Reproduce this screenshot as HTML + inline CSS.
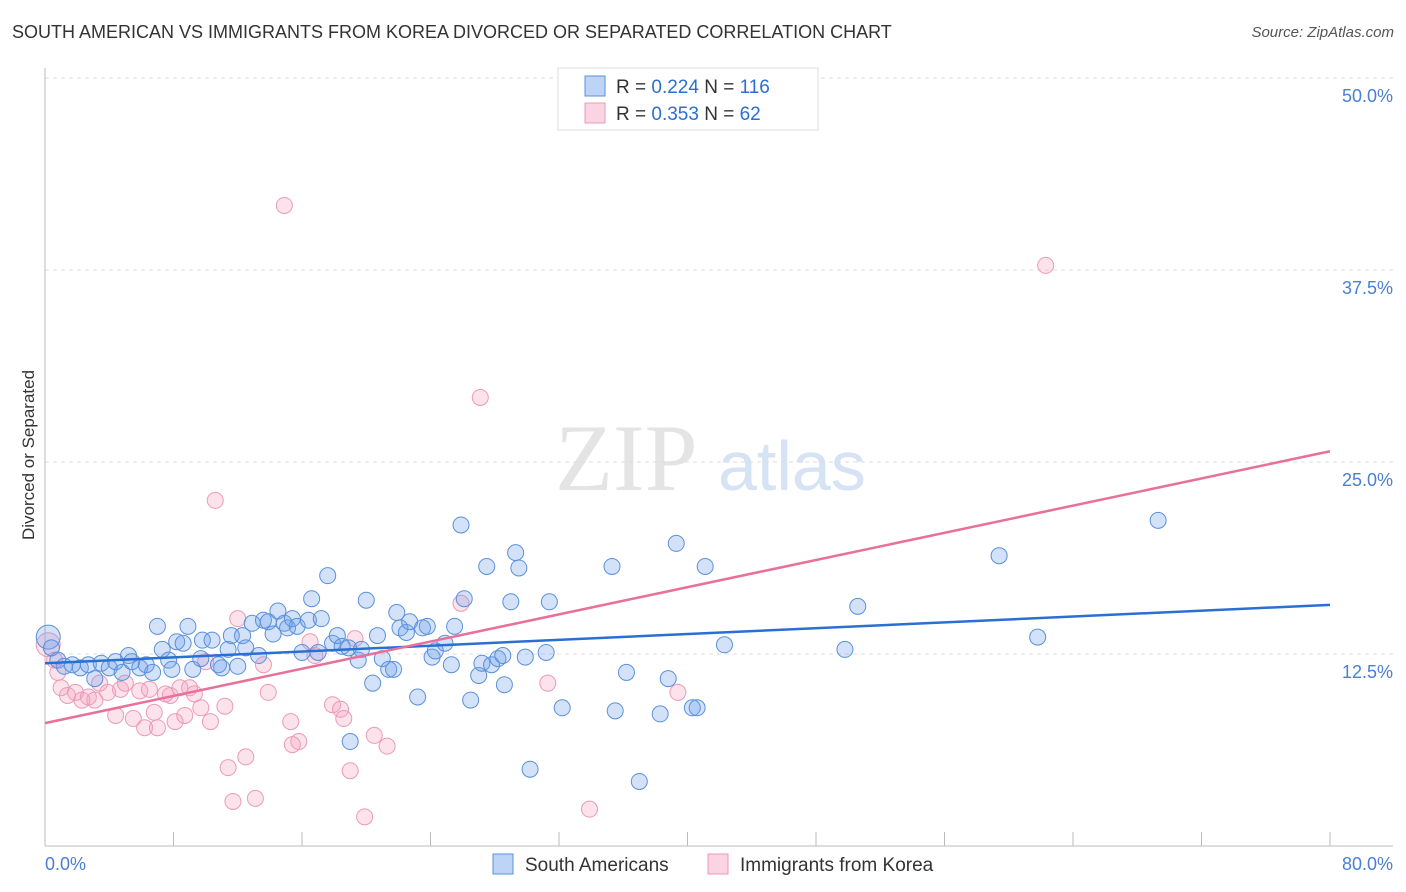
<!DOCTYPE html>
<html><head><meta charset="utf-8"><style>
body{margin:0;background:#fff;font-family:"Liberation Sans",sans-serif;}
#wrap{position:relative;width:1406px;height:892px;overflow:hidden;}
.t{position:absolute;white-space:nowrap;}
</style></head><body>
<div id="wrap">
<div class="t" style="left:12px;top:22px;font-size:18px;color:#333;">SOUTH AMERICAN VS IMMIGRANTS FROM KOREA DIVORCED OR SEPARATED CORRELATION CHART</div>
<div class="t" style="right:12px;top:24px;font-size:15px;color:#555;font-style:italic;">Source: ZipAtlas.com</div>
<svg id="chart" width="1406" height="892" style="position:absolute;left:0;top:0"></svg>
</div>
<script>
const blueX=[0.2,0.4,0.8,1.2,1.7,2.2,2.7,3.1,3.5,4.0,4.4,4.8,5.2,5.4,5.9,6.3,6.7,7.0,7.3,7.7,7.9,8.2,8.6,8.9,9.2,9.7,9.8,10.4,10.8,11.0,11.4,11.6,12.0,12.3,12.5,12.9,13.3,13.6,13.9,14.2,14.5,14.9,15.1,15.4,15.7,16.0,16.4,16.6,17.0,17.2,17.6,17.9,18.2,18.5,18.9,19.5,19.7,20.0,20.4,20.7,21.0,21.4,21.7,21.9,22.1,22.5,22.7,23.2,23.5,23.8,24.1,24.3,24.9,25.3,25.5,25.9,26.1,26.5,27.0,27.2,27.5,27.8,28.2,28.5,28.6,29.0,29.3,29.5,29.9,30.2,31.2,31.4,32.2,35.3,35.5,36.2,37.0,38.3,38.8,39.3,40.3,40.6,41.1,42.3,49.8,50.6,59.4,61.8,69.3,19.0];
const blueY=[13.6,12.9,12.1,11.7,11.8,11.6,11.8,10.9,11.9,11.6,12.0,11.3,12.4,12.0,11.6,11.8,11.3,14.3,12.8,12.1,11.5,13.3,13.2,14.3,11.5,12.2,13.4,13.4,11.8,11.6,12.8,13.7,11.7,13.7,12.9,14.5,12.4,14.7,14.6,13.8,15.3,14.5,14.2,14.8,14.3,12.6,14.7,16.1,12.6,14.8,17.6,13.2,13.7,13.0,12.9,12.1,12.8,16.0,10.6,13.7,12.2,11.5,11.5,15.2,14.2,13.9,14.6,9.7,14.2,14.3,12.3,12.7,13.2,11.8,14.3,20.9,16.1,9.5,11.1,11.9,18.2,11.8,12.2,12.4,10.5,15.9,19.1,18.1,12.3,5.0,12.6,15.9,9.0,18.2,8.8,11.3,4.2,8.6,10.9,19.7,9.0,9.0,18.2,13.1,12.8,15.6,18.9,13.6,21.2,6.8];
const pinkX=[0.2,0.6,0.8,1.0,1.4,1.9,2.3,2.7,3.1,3.4,3.9,4.4,4.7,5.0,5.5,5.9,6.2,6.5,6.8,7.0,7.5,7.8,8.1,8.4,8.7,9.0,9.3,9.7,10.0,10.3,10.6,11.2,11.4,11.7,12.0,12.5,13.1,13.6,13.9,14.9,15.3,15.4,15.8,16.5,16.8,17.9,18.4,18.6,19.0,19.3,19.9,20.5,21.3,25.9,27.1,31.3,33.9,39.4,62.3];
const pinkY=[13.1,12.1,11.3,10.3,9.8,10.0,9.5,9.7,9.5,10.6,10.0,8.5,10.2,10.6,8.3,10.1,7.7,10.2,8.7,7.7,9.9,9.8,8.1,10.3,8.5,10.3,9.9,9.0,12.0,8.1,22.5,9.1,5.1,2.9,14.8,5.8,3.1,11.8,10.0,41.7,8.1,6.6,6.8,13.3,12.4,9.2,8.9,8.3,4.9,13.5,1.9,7.2,6.5,15.8,29.2,10.6,2.4,10.0,37.8];
const blueTrend=[11.9,15.7];
const pinkTrend=[8.0,25.7];
const yTicks=[12.5,25.0,37.5,50.0];
const yTickLabels=["12.5%","25.0%","37.5%","50.0%"];
const xEnds=[0,80];
const xEndLabels=["0.0%","80.0%"];

const X0=45,X1=1330,Y0=846,Y1=78;
const sx=v=>X0+(v-0)/(80-0)*(X1-X0);
const sy=v=>Y0-(v/50)*(Y0-Y1);
const svg=document.getElementById('chart');
const NS='http://www.w3.org/2000/svg';
function mk(tag,attrs,parent){const e=document.createElementNS(NS,tag);for(const k in attrs)e.setAttribute(k,attrs[k]);(parent||svg).appendChild(e);return e;}

// watermark
let wm=mk('text',{x:555,y:490,'font-size':95,'font-family':'Liberation Serif,serif',fill:'#e4e4e4'});wm.textContent='ZIP';


let wm2=mk('text',{x:718,y:490,'font-size':70,'font-family':'Liberation Sans,sans-serif',fill:'#d5e3f5'});wm2.textContent='atlas';



// gridlines + y labels
yTicks.forEach((v,i)=>{
  const g=mk('line',{x1:X0,x2:1393,y1:sy(v),y2:sy(v),stroke:'#ddd','stroke-dasharray':'4,4'});
  
  
  const t=mk('text',{x:1393,y:sy(v)+24,'text-anchor':'end','font-size':18,fill:'#4a7fd4'});
  t.textContent=yTickLabels[i];
  
  
});
// axes
let ya=mk('line',{x1:X0,x2:X0,y1:68,y2:846,stroke:'#bbb'});


let xa=mk('line',{x1:X0,x2:1393,y1:846,y2:846,stroke:'#bbb'});


for(let i=0;i<=10;i++){
  const v=i*8;
  const tk=mk('line',{x1:sx(v),x2:sx(v),y1:832,y2:846,stroke:'#bbb'});
  
  
}
xEnds.forEach((v,i)=>{
  const t=mk('text',{x:i==0?sx(v):1393,y:870,'text-anchor':i==0?'start':'end','font-size':18,fill:'#4a7fd4'});
  t.textContent=xEndLabels[i];
  
  
});
let yt=mk('text',{x:34,y:455,'text-anchor':'middle','font-size':17,fill:'#333',transform:'rotate(-90 34 455)'});
yt.textContent='Divorced or Separated';



// points
function pts(xs,ys,fill,stroke,name){
  xs.forEach((x,i)=>{
    const r=(i==0)?12:8;
    const c=mk('circle',{cx:sx(x),cy:sy(ys[i]),r:r,fill:fill,stroke:stroke,'stroke-width':1});
    
    
  });
}
pts(pinkX,pinkY,'rgba(244,160,190,0.3)','#ec9ab8','point-korea');
pts(blueX,blueY,'rgba(110,160,235,0.3)','#5a90dc','point-south-american');

let bl=mk('line',{x1:sx(0),y1:sy(blueTrend[0]),x2:sx(80),y2:sy(blueTrend[1]),stroke:'#2a6fd4','stroke-width':2.5});


let pl=mk('line',{x1:sx(0),y1:sy(pinkTrend[0]),x2:sx(80),y2:sy(pinkTrend[1]),stroke:'#e8709a','stroke-width':2.5});



// top legend
let lb=mk('rect',{x:558,y:68,width:260,height:62,fill:'#fff',stroke:'#ddd'});


[[0,'0.224','116','rgba(110,160,235,0.45)','#5a90dc'],[1,'0.353',' 62','rgba(244,160,190,0.45)','#ec9ab8']].forEach(([i,r,n,f,s])=>{
  const y=86+i*27;
  const sw=mk('rect',{x:585,y:y-10,width:20,height:20,fill:f,stroke:s});
  
  
  const t=mk('text',{x:616,y:y+7,'font-size':19,fill:'#333','xml:space':'preserve'});
  t.innerHTML='R = <tspan fill="#2a6fd4">'+r+'</tspan>   N = <tspan fill="#2a6fd4">'+n+'</tspan>';
  
  
});
// bottom legend
[[493,'South Americans','rgba(110,160,235,0.45)','#5a90dc'],[708,'Immigrants from Korea','rgba(244,160,190,0.45)','#ec9ab8']].forEach(([x,l,f,s])=>{
  const sw=mk('rect',{x:x,y:854,width:20,height:20,fill:f,stroke:s});
  
  
  const t=mk('text',{x:x+32,y:871,'font-size':19,fill:'#333'});
  t.textContent=l;
  
  
});
</script>
</body></html>
